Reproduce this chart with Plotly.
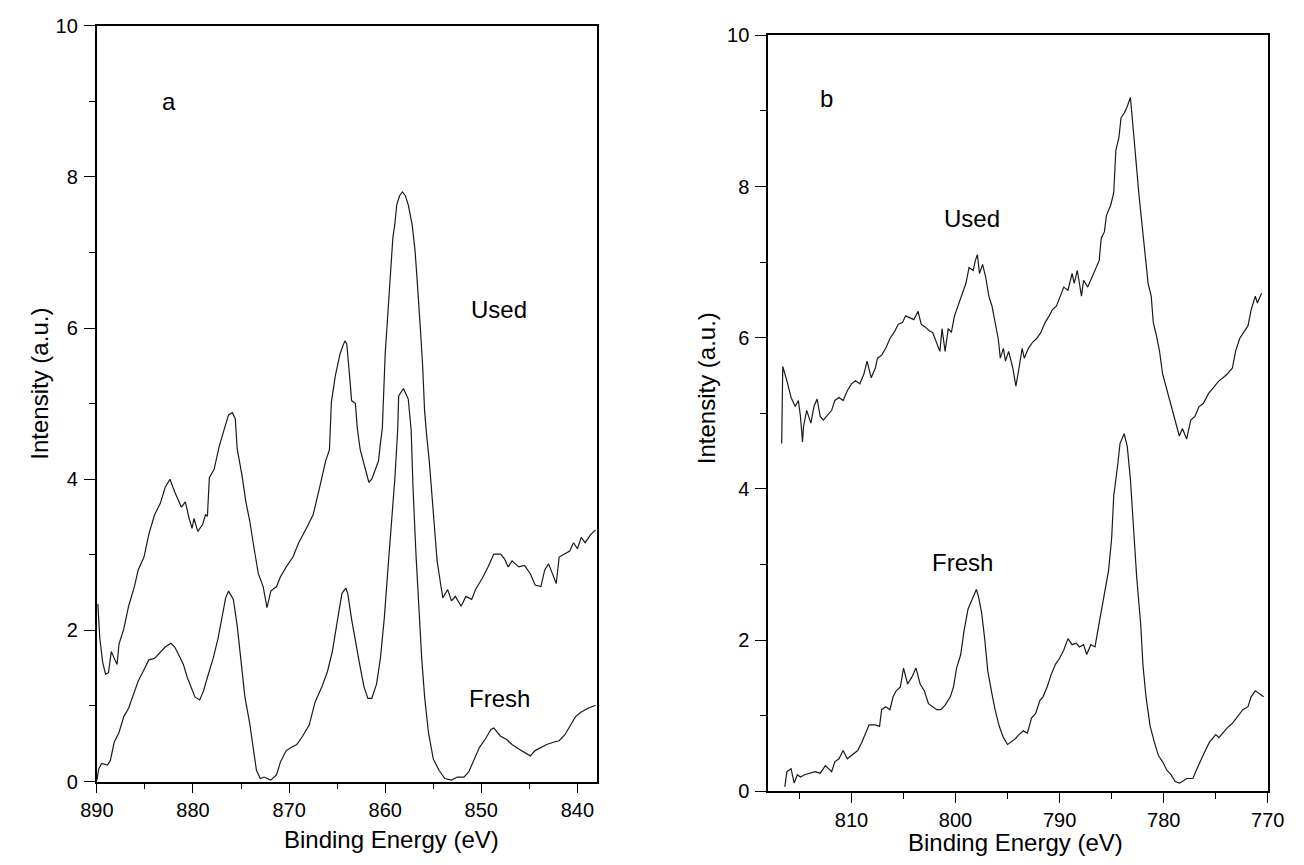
import plotly.graph_objects as go

# ---------------- Panel a (Ni 2p region) ----------------
a_used_x = [889.9, 889.7, 889.4, 889.1, 888.8, 888.5, 888.2, 887.9, 887.7, 887.2, 886.7, 886.1, 885.7, 885.1,
            884.6, 884.0, 883.4, 882.9, 882.4, 881.9, 881.2, 880.8, 880.4, 880.1, 879.9, 879.5, 879.0, 878.7,
            878.5, 878.3, 877.8, 877.3, 876.8, 876.3, 875.9, 875.6, 875.4, 874.9, 874.5, 874.1, 873.6, 873.2,
            872.7, 872.3, 871.9, 871.3, 870.9, 870.3, 869.6, 869.0, 868.2, 867.5, 866.9, 866.2, 865.8, 865.6,
            865.2, 864.7, 864.2, 864.0, 863.7, 863.5, 863.1, 862.9, 862.6, 862.3, 862.0, 861.7, 861.4, 861.0,
            860.7, 860.5, 860.3, 860.0, 859.7, 859.5, 859.2, 859.0, 858.8, 858.5, 858.2, 857.9, 857.6, 857.2,
            856.9, 856.7, 856.5, 856.3, 856.1, 855.9, 855.7, 855.4, 855.0, 854.6, 854.3, 854.0, 853.5, 853.1,
            852.7, 852.1, 851.6, 851.0, 850.6, 849.9, 849.3, 848.7, 848.0, 847.6, 847.2, 846.8, 846.1, 845.5,
            844.9, 844.4, 843.8, 843.4, 843.0, 842.5, 842.2, 841.9, 841.4, 840.8, 840.4, 840.0, 839.6, 839.2,
            838.6, 838.1]
a_used_y = [2.35, 1.90, 1.58, 1.42, 1.44, 1.72, 1.63, 1.55, 1.82, 2.02, 2.32, 2.58, 2.80, 2.97,
            3.27, 3.53, 3.68, 3.89, 4.00, 3.83, 3.63, 3.70, 3.48, 3.35, 3.48, 3.31, 3.40, 3.53,
            3.51, 4.02, 4.13, 4.42, 4.64, 4.85, 4.88, 4.80, 4.40, 4.05, 3.70, 3.45, 3.05, 2.75,
            2.58, 2.30, 2.52, 2.58, 2.71, 2.84, 2.97, 3.16, 3.35, 3.53, 3.85, 4.24, 4.39, 5.02,
            5.36, 5.66, 5.83, 5.79, 5.36, 5.04, 5.00, 4.67, 4.39, 4.24, 4.09, 3.96, 4.00, 4.13,
            4.24, 4.47, 4.67, 5.66, 6.21, 6.56, 7.20, 7.37, 7.63, 7.75, 7.80, 7.75, 7.63, 7.37,
            7.03, 6.68, 6.34, 5.91, 5.49, 4.90, 4.60, 4.22, 3.57, 2.92, 2.67, 2.43, 2.54, 2.39,
            2.45, 2.32, 2.45, 2.41, 2.54, 2.69, 2.84, 3.01, 3.01, 2.95, 2.84, 2.92, 2.84, 2.86,
            2.75, 2.60, 2.58, 2.80, 2.88, 2.73, 2.62, 2.97, 3.01, 3.05, 3.16, 3.08, 3.23, 3.16,
            3.27, 3.33]

a_fresh_x = [890.0, 889.8, 889.5, 888.9, 888.6, 888.2, 887.7, 887.2, 886.7, 886.2, 885.7, 885.1, 884.6, 884.0,
             883.4, 882.9, 882.3, 881.9, 881.5, 881.0, 880.6, 880.2, 879.8, 879.3, 878.9, 878.5, 877.9, 877.4,
             877.0, 876.6, 876.3, 875.8, 875.4, 875.0, 874.6, 874.1, 873.7, 873.4, 873.0, 872.6, 871.9, 871.3,
             870.9, 870.3, 869.8, 869.2, 868.6, 867.9, 867.3, 866.6, 866.0, 865.5, 865.0, 864.5, 864.1, 863.9,
             863.5, 863.1, 862.6, 862.2, 861.8, 861.4, 860.9, 860.5, 860.1, 859.7, 859.3, 859.0, 858.7, 858.6,
             858.1, 857.6, 857.3, 857.1, 856.8, 856.5, 856.2, 855.9, 855.5, 855.0, 854.4, 853.8, 853.1, 852.5,
             851.8, 851.3, 850.8, 850.2, 849.5, 849.0, 848.7, 848.0, 847.4, 846.8, 846.1, 845.5, 844.9, 844.4,
             843.8, 843.2, 842.5, 841.9, 841.3, 840.8, 840.2, 839.6, 838.9, 838.1]
a_fresh_y = [0.02, 0.17, 0.24, 0.22, 0.28, 0.52, 0.65, 0.86, 0.97, 1.16, 1.33, 1.48, 1.61, 1.63,
             1.72, 1.78, 1.83, 1.78, 1.68, 1.55, 1.38, 1.25, 1.12, 1.08, 1.20, 1.38, 1.63, 1.89,
             2.15, 2.43, 2.52, 2.41, 2.06, 1.63, 1.12, 0.77, 0.43, 0.15, 0.04, 0.06, 0.02, 0.09,
             0.26, 0.41, 0.45, 0.49, 0.60, 0.75, 1.05, 1.25, 1.46, 1.72, 2.11, 2.49, 2.56, 2.49,
             2.15, 1.85, 1.51, 1.25, 1.10, 1.10, 1.29, 1.63, 2.15, 2.84, 3.44, 4.00, 4.65, 5.10,
             5.20, 5.06, 4.65, 3.87, 3.01, 2.24, 1.63, 1.12, 0.65, 0.30, 0.15, 0.04, 0.02, 0.06,
             0.06, 0.13, 0.28, 0.45, 0.58, 0.69, 0.71, 0.60, 0.56, 0.49, 0.43, 0.39, 0.34, 0.41,
             0.45, 0.49, 0.52, 0.54, 0.62, 0.73, 0.86, 0.92, 0.97, 1.01]

# ---------------- Panel b (Co 2p region) ----------------
b_used_x = [816.7, 816.6, 816.2, 815.8, 815.4, 815.1, 814.9, 814.7, 814.6, 814.3, 813.9, 813.6, 813.3, 813.0,
            812.7, 812.3, 811.9, 811.6, 811.2, 810.8, 810.4, 810.0, 809.6, 809.2, 808.8, 808.5, 808.1, 807.7,
            807.5, 807.1, 806.7, 806.3, 805.9, 805.5, 805.1, 804.8, 804.4, 804.0, 803.6, 803.3, 802.9, 802.5,
            802.2, 801.8, 801.5, 801.3, 801.0, 800.7, 800.4, 800.1, 799.7, 799.3, 799.0, 798.7, 798.3, 798.1,
            797.9, 797.7, 797.4, 797.1, 796.8, 796.5, 796.2, 795.9, 795.7, 795.4, 795.2, 794.9, 794.5, 794.2,
            793.9, 793.6, 793.4, 793.0, 792.6, 792.2, 791.8, 791.4, 791.0, 790.7, 790.3, 789.9, 789.6, 789.2,
            788.8, 788.6, 788.3, 787.9, 787.7, 787.3, 786.9, 786.5, 786.2, 786.0, 785.7, 785.5, 785.1, 784.8,
            784.6, 784.3, 784.1, 783.8, 783.5, 783.2, 783.0, 782.8, 782.4, 782.0, 781.7, 781.5, 781.2, 781.0,
            780.7, 780.4, 780.1, 779.6, 779.2, 778.9, 778.5, 778.2, 777.8, 777.4, 777.0, 776.6, 776.2, 775.7,
            775.2, 774.7, 774.3, 773.9, 773.4, 773.1, 772.7, 772.3, 771.9, 771.6, 771.2, 771.0, 770.6]
b_used_y = [4.60, 5.62, 5.43, 5.21, 5.09, 5.17, 4.96, 4.62, 4.83, 5.04, 4.87, 5.09, 5.19, 4.96,
            4.91, 4.98, 5.04, 5.17, 5.21, 5.17, 5.30, 5.39, 5.43, 5.39, 5.52, 5.69, 5.47, 5.60,
            5.73, 5.77, 5.86, 5.99, 6.07, 6.18, 6.20, 6.29, 6.27, 6.24, 6.35, 6.18, 6.14, 6.09,
            6.07, 5.94, 5.82, 6.12, 5.82, 6.12, 6.07, 6.29, 6.44, 6.59, 6.72, 6.93, 6.89, 7.02,
            7.10, 6.85, 6.97, 6.80, 6.55, 6.42, 6.20, 5.99, 5.73, 5.86, 5.69, 5.82, 5.60, 5.36,
            5.60, 5.86, 5.73, 5.86, 5.94, 5.99, 6.07, 6.20, 6.29, 6.37, 6.42, 6.55, 6.67, 6.63,
            6.85, 6.72, 6.89, 6.55, 6.76, 6.67, 6.80, 6.93, 7.02, 7.32, 7.40, 7.62, 7.75, 7.92,
            8.48, 8.65, 8.91, 8.97, 9.06, 9.18, 8.91, 8.56, 7.92, 7.40, 7.06, 6.72, 6.55, 6.20,
            6.03, 5.82, 5.52, 5.26, 5.04, 4.87, 4.70, 4.80, 4.66, 4.91, 4.96, 5.09, 5.13, 5.26,
            5.34, 5.43, 5.47, 5.52, 5.60, 5.82, 5.99, 6.07, 6.16, 6.37, 6.55, 6.46, 6.59]

b_fresh_x = [816.4, 816.2, 815.8, 815.5, 815.2, 814.9, 814.5, 814.1, 813.5, 813.0, 812.5, 811.9, 811.6, 811.2,
             810.8, 810.4, 809.8, 809.4, 809.0, 808.6, 808.3, 807.7, 807.3, 807.1, 806.7, 806.3, 806.0, 805.7,
             805.3, 805.0, 804.6, 804.2, 803.8, 803.4, 803.0, 802.6, 802.2, 801.8, 801.4, 801.0, 800.5, 800.2,
             799.9, 799.5, 799.2, 798.8, 798.4, 798.0, 797.8, 797.5, 797.2, 796.9, 796.5, 796.2, 795.8, 795.4,
             795.0, 794.7, 794.3, 793.9, 793.5, 793.1, 792.7, 792.3, 791.9, 791.6, 791.2, 790.8, 790.4, 790.0,
             789.6, 789.2, 788.8, 788.4, 788.1, 787.7, 787.4, 787.0, 786.6, 786.3, 786.0, 785.7, 785.3, 785.0,
             784.8, 784.4, 784.2, 783.8, 783.5, 783.2, 782.9, 782.6, 782.2, 782.0, 781.7, 781.3, 780.9, 780.5,
             780.1, 779.7, 779.3, 778.9, 778.5, 778.2, 777.8, 777.2, 776.8, 776.4, 776.0, 775.6, 775.0, 774.7,
             774.3, 773.9, 773.4, 772.9, 772.4, 771.9, 771.6, 771.2, 770.8, 770.4]
b_fresh_y = [0.06, 0.26, 0.30, 0.11, 0.22, 0.19, 0.22, 0.24, 0.26, 0.24, 0.34, 0.26, 0.39, 0.43,
             0.54, 0.43, 0.49, 0.54, 0.65, 0.77, 0.88, 0.88, 0.86, 1.08, 1.12, 1.08, 1.25, 1.33,
             1.38, 1.63, 1.42, 1.51, 1.63, 1.42, 1.33, 1.16, 1.12, 1.08, 1.08, 1.14, 1.25, 1.38,
             1.63, 1.81, 2.11, 2.41, 2.54, 2.67, 2.58, 2.37, 2.02, 1.59, 1.29, 1.08, 0.86, 0.71,
             0.62, 0.65, 0.69, 0.75, 0.80, 0.77, 0.97, 1.03, 1.20, 1.25, 1.38, 1.55, 1.68, 1.76,
             1.87, 2.02, 1.94, 1.96, 1.91, 1.94, 1.81, 1.94, 1.91, 2.15, 2.37, 2.62, 2.92, 3.35,
             3.91, 4.34, 4.60, 4.73, 4.56, 4.13, 3.48, 2.84, 2.19, 1.68, 1.25, 0.86, 0.65, 0.47,
             0.39, 0.28, 0.22, 0.13, 0.11, 0.13, 0.17, 0.17, 0.30, 0.43, 0.54, 0.65, 0.75, 0.71,
             0.77, 0.84, 0.90, 0.99, 1.08, 1.12, 1.25, 1.33, 1.29, 1.25]

a_x_range = [890.03, 838.0]
b_x_range = [818.0, 770.0]
y_range = [0, 10]

W, H = 1304, 865
FONT = "Liberation Sans, Arial, Helvetica, sans-serif"
LINE = dict(color="#1a1a1a", width=1.2)

fig = go.Figure()
fig.add_trace(go.Scatter(x=a_used_x, y=a_used_y, mode="lines", line=LINE, xaxis="x", yaxis="y", showlegend=False))
fig.add_trace(go.Scatter(x=a_fresh_x, y=a_fresh_y, mode="lines", line=LINE, xaxis="x", yaxis="y", showlegend=False))
fig.add_trace(go.Scatter(x=b_used_x, y=b_used_y, mode="lines", line=LINE, xaxis="x2", yaxis="y2", showlegend=False))
fig.add_trace(go.Scatter(x=b_fresh_x, y=b_fresh_y, mode="lines", line=LINE, xaxis="x2", yaxis="y2", showlegend=False))


def xax(rng, dom, anchor):
    return dict(range=rng, domain=dom, anchor=anchor, showgrid=False, zeroline=False,
                showline=True, linecolor="black", linewidth=1.6, mirror=True,
                ticks="outside", ticklen=10, tickwidth=1.3, tickcolor="black",
                dtick=10, tick0=0,
                minor=dict(ticks="outside", ticklen=6, tickwidth=1.3, tickcolor="black", dtick=5, tick0=0),
                tickfont=dict(family=FONT, size=20, color="black"))


def yax(dom, anchor):
    return dict(range=y_range, domain=dom, anchor=anchor, showgrid=False, zeroline=False,
                showline=True, linecolor="black", linewidth=1.6, mirror=True,
                ticks="outside", ticklen=11, tickwidth=1.3, tickcolor="black",
                dtick=2, tick0=0, ticklabelstandoff=2,
                minor=dict(ticks="outside", ticklen=6, tickwidth=1.3, tickcolor="black", dtick=1, tick0=0),
                tickfont=dict(family=FONT, size=20, color="black"))


fig.update_layout(
    width=W, height=H,
    margin=dict(l=0, r=0, t=0, b=0),
    paper_bgcolor="white", plot_bgcolor="white",
    font=dict(family=FONT, size=20, color="black"),
    xaxis=xax(a_x_range, [82.7 / W, 595.7 / W], "y"),
    yaxis=yax([1 - 790.7 / H, 1 - 15 / H], "x"),
    xaxis2=xax(b_x_range, [771.7 / W, 1284.3 / W], "y2"),
    yaxis2=yax([1 - 800.7 / H, 1 - 25 / H], "x2"),
)

# in-plot labels (data coordinates)
labels = [
    ("a", 882.5, 9.0, "x", "y"),
    ("Used", 848.2, 6.25, "x", "y"),
    ("Fresh", 848.1, 1.10, "x", "y"),
    ("b", 812.4, 9.16, "x2", "y2"),
    ("Used", 798.4, 7.58, "x2", "y2"),
    ("Fresh", 799.3, 3.03, "x2", "y2"),
]
for t, x, y, xr, yr in labels:
    fig.add_annotation(text=t, x=x, y=y, xref=xr, yref=yr, showarrow=False,
                       xanchor="center", yanchor="middle",
                       font=dict(family=FONT, size=24, color="black"))

# axis titles (paper coordinates)
for x_px, y_px in [(385, 850), (1025, 853)]:
    fig.add_annotation(text="Binding Energy (eV)", x=x_px / W, y=1 - y_px / H, xref="paper", yref="paper",
                       xanchor="center", yanchor="middle", showarrow=False,
                       font=dict(family=FONT, size=24, color="black"))
for x_px, y_px in [(24, 382), (708, 387)]:
    fig.add_annotation(text="Intensity (a.u.)", x=x_px / W, y=1 - y_px / H, xref="paper", yref="paper",
                       xanchor="center", yanchor="middle", textangle=-90, showarrow=False,
                       font=dict(family=FONT, size=24, color="black"))

fig.write_html("out.html")
